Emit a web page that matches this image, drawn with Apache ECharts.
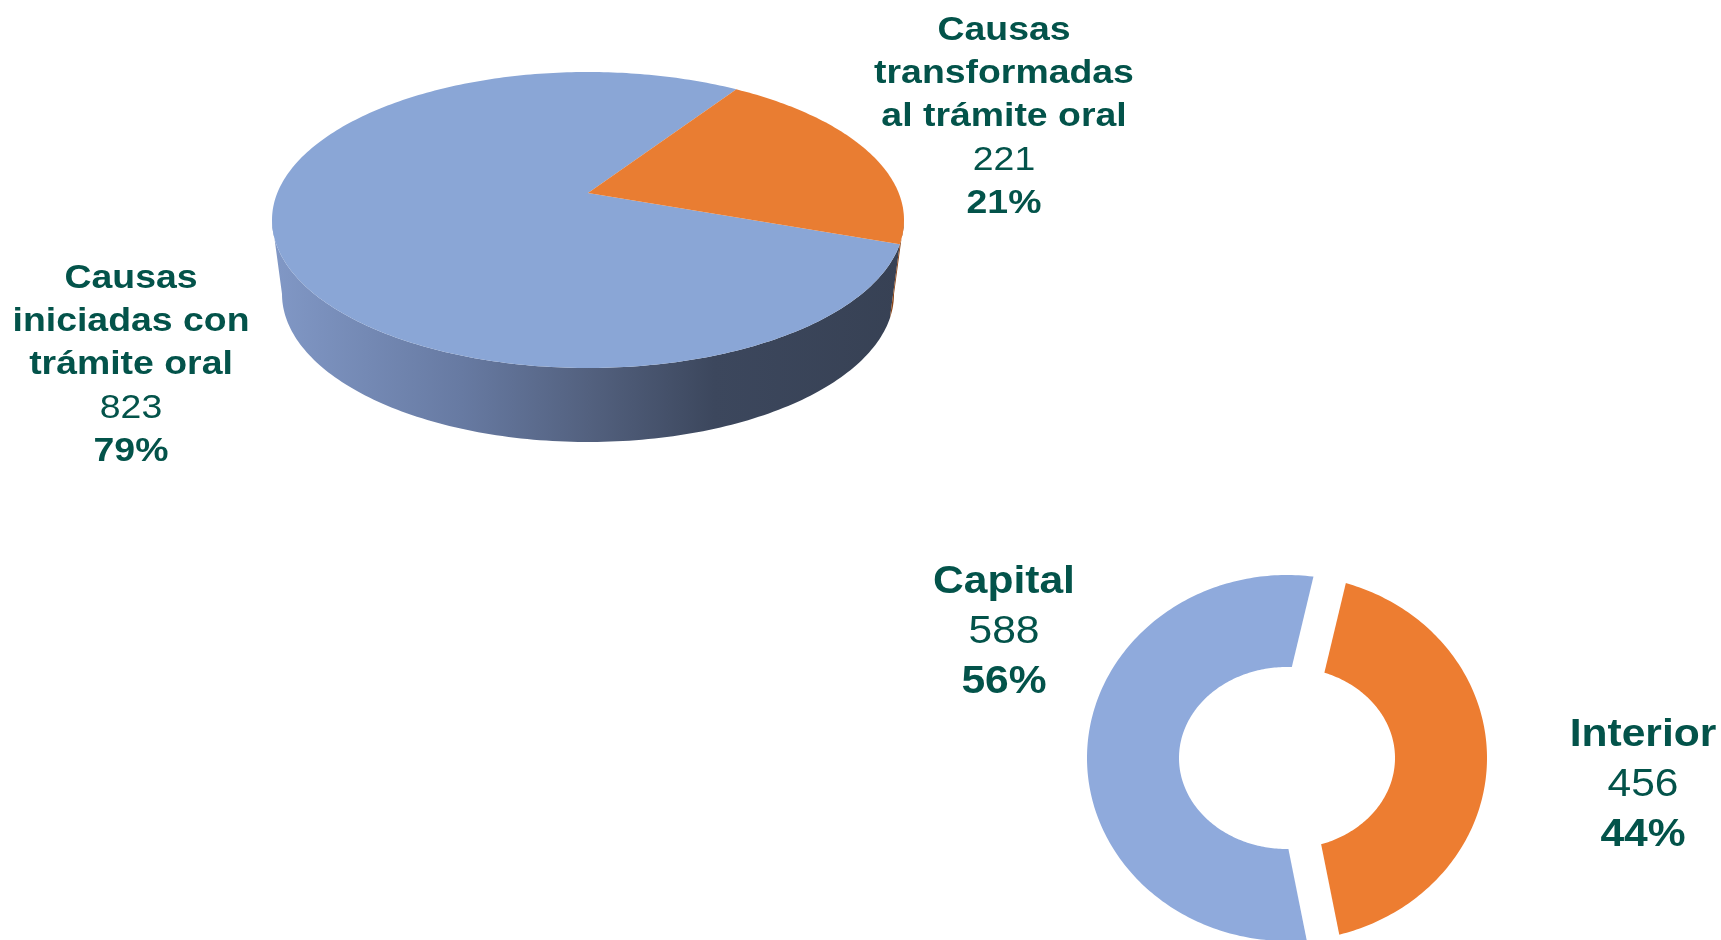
<!DOCTYPE html>
<html>
<head>
<meta charset="utf-8">
<script src="https://cdn.jsdelivr.net/npm/echarts@6/dist/echarts.min.js"></script>
<style>
  html, body { margin: 0; padding: 0; background: #fff; }
  #chart { width: 1721px; height: 940px; }
</style>
</head>
<body>
<div id="chart"></div>
<script>
// datos
const tramiteNames = ['Causas\niniciadas con\ntrámite oral', 'Causas\ntransformadas\nal trámite oral'];
const tramiteValues = [823, 221];
const sedeNames = ['Capital', 'Interior'];
const sedeValues = [588, 456];

const textColor = '#03534a';
const font = '"Liberation Sans", Arial, sans-serif';

// torta 3D: elipse con perspectiva (el centro queda mas arriba)
const pie3d = { cx: 588, cy: 220, rx: 316, ry: 148, depth: 74, bottomRx: 306, tilt: 0.1824, startAngle: -19.6 };
const topColors = ['#8aa6d6', '#e97d32'];
const sideColors = [
  new echarts.graphic.LinearGradient(272, 0, 904, 0, [
    { offset: 0, color: '#8198c6' },
    { offset: 0.3, color: '#677aa2' },
    { offset: 0.5, color: '#53617f' },
    { offset: 0.7, color: '#3c475d' },
    { offset: 1, color: '#374154' }
  ], true),
  '#8a4518'
];
const tramiteLabelPos = [[131, 365], [1004, 117]];

// dona (un poco mas ancha que alta, como el original)
const donut = { cx: 1287, cy: 758, rx: 200, ry: 183, irx: 108, iry: 91, gap: 33, startAngle: -79.6 };
const sedeColors = ['#8faadc', '#ed7d31'];
const sedeLabelPos = [[1004, 633], [1643, 786]];

const chart = echarts.init(document.getElementById('chart'));

const rad = a => a * Math.PI / 180;
const sum = arr => arr.reduce((a, b) => a + b, 0);

function sliceAngles(values, start) {
  const total = sum(values);
  let acc = start;
  return values.map(v => {
    const span = v / total * 360;
    const a = { start: acc, end: acc - span };
    acc -= span;
    return a;
  });
}
const tramiteAngles = sliceAngles(tramiteValues, pie3d.startAngle);
const sedeAngles = sliceAngles(sedeValues, donut.startAngle);

// perspectiva: transformacion proyectiva que conserva la elipse
const ph = Math.atanh(pie3d.tilt), ch = Math.cosh(ph), sh = Math.sinh(ph);
function persp(cx, cy, rx, ry, a) {
  const c = Math.cos(rad(a)), s = Math.sin(rad(a));
  const den = sh * s + ch;
  return [cx + rx * c / den, cy - ry * (ch * s + sh) / den];
}
function perspArc(cx, cy, rx, ry, a0, a1) {
  const n = Math.max(2, Math.ceil(Math.abs(a1 - a0)));
  const pts = [];
  for (let i = 0; i <= n; i++) pts.push(persp(cx, cy, rx, ry, a0 + (a1 - a0) * i / n));
  return pts;
}
const sideFrom = -180 + Math.atan(sh) * 180 / Math.PI;
const sideTo = -Math.atan(sh) * 180 / Math.PI;

function ellArc(cx, cy, rx, ry, a0, a1) {
  const n = Math.max(2, Math.ceil(Math.abs(a1 - a0)));
  const pts = [];
  for (let i = 0; i <= n; i++) {
    const a = rad(a0 + (a1 - a0) * i / n);
    pts.push([cx + rx * Math.cos(a), cy - ry * Math.sin(a)]);
  }
  return pts;
}

function pct(v, total) { return Math.round(v / total * 100) + '%'; }

function richLabel(name, value, total) {
  return name.split('\n').map(s => '{n|' + s + '}').join('\n') +
    '\n{v|' + value + '}\n{p|' + pct(value, total) + '}';
}
function richStyles(size, lh) {
  return {
    n: { fontSize: size, fontWeight: 'bold', fontFamily: font, lineHeight: lh, fill: textColor },
    v: { fontSize: size, fontWeight: 'normal', fontFamily: font, lineHeight: lh, fill: textColor },
    p: { fontSize: size, fontWeight: 'bold', fontFamily: font, lineHeight: lh, fill: textColor }
  };
}

function renderTramite(params, api) {
  const i = params.dataIndex;
  const value = api.value(0);
  const s = tramiteAngles[i];
  const p = pie3d;
  const children = [];
  for (let k = -2; k <= 2; k++) {
    const lo = Math.max(s.end + 360 * k, sideFrom);
    const hi = Math.min(s.start + 360 * k, sideTo);
    if (hi > lo) {
      const pts = perspArc(p.cx, p.cy, p.rx, p.ry, hi, lo)
        .concat(perspArc(p.cx, p.cy + p.depth, p.bottomRx, p.ry, lo, hi));
      children.push({ type: 'polygon', z2: 1, shape: { points: pts }, style: { fill: sideColors[i] } });
    }
  }
  const apex = [p.cx, p.cy - p.ry * p.tilt];
  const top = [apex].concat(perspArc(p.cx, p.cy, p.rx, p.ry, s.start, s.end));
  children.push({ type: 'polygon', z2: 5, shape: { points: top }, style: { fill: topColors[i] } });
  children.push({
    type: 'text', z2: 10, scaleX: 1.1,
    x: tramiteLabelPos[i][0], y: tramiteLabelPos[i][1],
    style: {
      text: richLabel(tramiteNames[i], value, sum(tramiteValues)),
      align: 'center', verticalAlign: 'middle', fill: textColor,
      rich: richStyles(34, 43.3)
    }
  });
  return { type: 'group', children };
}

function renderSede(params, api) {
  const i = params.dataIndex;
  const value = api.value(0);
  const s = sedeAngles[i];
  const d = donut;
  const pts = ellArc(d.cx, d.cy, d.rx, d.ry, s.start, s.end)
    .concat(ellArc(d.cx, d.cy, d.irx, d.iry, s.end, s.start));
  const edge = [d.cx + 1.15 * d.rx * Math.cos(rad(s.start)), d.cy - 1.15 * d.ry * Math.sin(rad(s.start))];
  return {
    type: 'group',
    children: [
      { type: 'polygon', z2: 1, shape: { points: pts }, style: { fill: sedeColors[i] } },
      { type: 'line', z2: 3, shape: { x1: d.cx, y1: d.cy, x2: edge[0], y2: edge[1] },
        style: { stroke: '#fff', lineWidth: d.gap } },
      {
        type: 'text', z2: 10, scaleX: 1.12,
        x: sedeLabelPos[i][0], y: sedeLabelPos[i][1],
        style: {
          text: richLabel(sedeNames[i], value, sum(sedeValues)),
          align: 'center', verticalAlign: 'middle', fill: textColor,
          rich: richStyles(38, 50)
        }
      }
    ]
  };
}

chart.setOption({
  animation: false,
  backgroundColor: '#fff',
  series: [
    {
      type: 'custom',
      coordinateSystem: 'none',
      silent: true,
      renderItem: renderTramite,
      data: tramiteValues.map((v, i) => ({ name: tramiteNames[i], value: [v, i] }))
    },
    {
      type: 'custom',
      coordinateSystem: 'none',
      silent: true,
      renderItem: renderSede,
      data: sedeValues.map((v, i) => ({ name: sedeNames[i], value: [v, i] }))
    }
  ]
});
</script>
</body>
</html>
